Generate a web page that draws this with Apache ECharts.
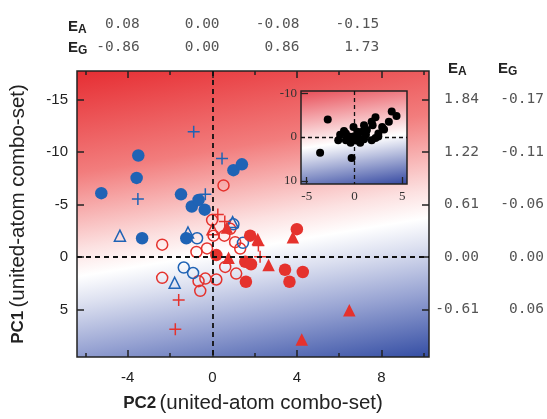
<!DOCTYPE html>
<html>
<head>
<meta charset="utf-8">
<script src="https://cdn.jsdelivr.net/npm/echarts@6/dist/echarts.min.js"></script>
<style>
  html, body { margin: 0; padding: 0; background: #fff; }
  #chart { width: 547px; height: 419px; }
</style>
</head>
<body>
<div id="chart"></div>
<script>
// points are [PC2, PC1]
const blueFilled = [[-3.50,-9.66],[-3.58,-7.53],[-5.25,-6.08],[-1.48,-5.97],[-0.97,-4.81],[-0.65,-5.44],[-0.36,-4.51],[1.00,-8.27],[1.40,-8.82],[-3.32,-1.79],[-1.23,-1.79]];
const blueOpenCircle = [[-0.72,-1.79],[1.00,-3.12],[-1.35,0.99],[-0.91,1.51],[1.45,-1.36]];
const blueOpenTri = [[-4.37,-2.04],[-1.15,-2.34],[0.96,-3.33],[-1.78,2.44]];
const blueCross = [[-0.88,-11.92],[-3.52,-5.53],[-0.33,-5.99],[0.46,-9.38]];
const redOpenCircle = [[0.53,-6.82],[-0.01,-3.52],[0.57,-2.04],[0.85,-2.69],[0.06,-2.04],[-2.37,-1.18],[-0.25,-0.83],[-0.75,-0.49],[1.08,-1.42],[1.32,-0.81],[-2.37,1.97],[-0.65,2.29],[-0.33,2.04],[0.19,2.13],[-0.57,3.21],[0.61,0.93],[1.13,1.57]];
const redFilled = [[4.00,-2.66],[1.79,-2.04],[0.19,-0.19],[1.56,0.44],[1.83,0.68],[1.59,2.34],[3.44,1.20],[3.65,2.34],[4.28,1.42]];
const redFilledTri = [[3.81,-1.88],[0.77,0.06],[2.66,0.74],[6.48,5.06],[4.23,7.84],[0.69,-2.81],[2.15,-1.73]];
const redOpenTri = [[0.01,-2.66]];
const redCross = [[-1.59,4.07],[-1.75,6.85],[2.26,-0.03],[2.18,-1.11],[0.26,-4.05],[0.59,-3.38]];

// inset
const insetPoints = [[-2.8,-4.0],[-3.6,3.6],[-0.3,4.8],[3.9,-5.8],[4.4,-4.8],[3.6,-3.5],[2.2,-4.5],[1.8,-3.5],[1.9,-2.7],[1.0,-2.7],[-0.1,-2.3],[-1.1,-1.4],[-1.5,-0.5],[-1.7,0.7],[-0.9,0.7],[-0.6,-0.1],[-0.4,1.3],[0.3,-1.2],[0.5,0.3],[0.6,1.3],[0.8,-1.2],[1.2,-0.5],[1.3,-1.6],[1.8,0.7],[2.5,-0.8],[3.1,-1.7],[2.9,-2.3],[2.5,-0.1],[-0.1,-0.1],[0.2,0.8],[1.0,0.5],[-0.9,-0.8],[2.2,0.2]];

// axis ticks / secondary labels
const pc2Major = [-4, 0, 4, 8];
const pc2Minor = [-6, -2, 2, 6, 10];
const pc1Ticks = [-15, -10, -5, 0, 5];
const topEA = ['0.08', '0.00', '-0.08', '-0.15'];
const topEG = ['-0.86', '0.00', '0.86', '1.73'];
const rightEA = ['1.84', '1.22', '0.61', '0.00', '-0.61'];
const rightEG = ['-0.17', '-0.11', '-0.06', '0.00', '0.06'];
const insetXTicks = [-5, 0, 5];
const insetYTicks = [-10, 0, 10];

const BLUE = '#1f63b5';
const RED = '#e5322d';
const SANS = '"Liberation Sans", Arial, sans-serif';
const MONO = '"DejaVu Sans Mono", monospace';
const SERIF = '"Liberation Serif", serif';

const chart = echarts.init(document.getElementById('chart'));

const crossPath = 'path://M6,0L6,12M0,6L12,6';
const noLine = { show: false, onZero: false };

function pts(data, symbol, color, open, size, extra) {
  return Object.assign({
    type: 'scatter',
    xAxisIndex: 0,
    yAxisIndex: 0,
    data: data,
    symbol: symbol,
    symbolSize: size,
    silent: true,
    z: 3,
    itemStyle: open
      ? { color: 'rgba(0,0,0,0)', borderColor: color, borderWidth: 1.5, opacity: 1 }
      : { color: color, opacity: 1 }
  }, extra || {});
}

function header(x, y, sub) {
  return [
    { type: 'text', left: x, top: y, style: { text: 'E', font: 'bold 15px ' + SANS, fill: '#222' } },
    { type: 'text', left: x + 10, top: y + 5, style: { text: sub, font: 'bold 12px ' + SANS, fill: '#222' } }
  ];
}

const dashed = { type: [5, 4], color: '#111', width: 1.8 };

chart.setOption({
  animation: false,
  backgroundColor: '#fff',
  grid: [
    {
      left: 77, top: 71, width: 353, height: 294,
      show: true, borderColor: '#222', borderWidth: 1.5,
      backgroundColor: {
        type: 'linear', x: -0.096, y: 0.019, x2: 0.063, y2: 1.185,
        colorStops: [
          { offset: 0, color: 'rgb(230,45,50)' },
          { offset: 0.3, color: 'rgb(242,125,125)' },
          { offset: 0.52, color: 'rgb(252,225,225)' },
          { offset: 0.6, color: 'rgb(255,255,255)' },
          { offset: 0.68, color: 'rgb(220,224,240)' },
          { offset: 0.82, color: 'rgb(150,162,210)' },
          { offset: 1, color: 'rgb(55,80,165)' }
        ]
      }
    },
    {
      left: 301, top: 91, width: 106, height: 93, z: 5,
      show: true, borderColor: '#222', borderWidth: 1.5,
      backgroundColor: {
        type: 'linear', x: 0.425, y: -0.068, x2: 0.565, y2: 1.069,
        colorStops: [
          { offset: 0, color: 'rgb(232,75,85)' },
          { offset: 0.533, color: 'rgb(255,255,255)' },
          { offset: 1, color: 'rgb(50,70,160)' }
        ]
      }
    }
  ],
  xAxis: [
    {
      gridIndex: 0, type: 'value', position: 'bottom', min: -6.4, max: 10.25,
      axisLine: noLine, splitLine: { show: false },
      axisTick: { inside: true, length: 7, customValues: pc2Major, lineStyle: { color: '#222', width: 1.5 } },
      axisLabel: { customValues: pc2Major, margin: 13, fontSize: 15, fontFamily: SANS, color: '#222' },
      name: '{b|PC2} {n|(united-atom combo-set)}', nameLocation: 'middle', nameGap: 36,
      nameTextStyle: { rich: {
        b: { fontWeight: 'bold', fontSize: 17, fontFamily: SANS, color: '#222' },
        n: { fontSize: 20.5, fontFamily: SANS, color: '#222' }
      } }
    },
    {
      gridIndex: 0, type: 'value', position: 'bottom', min: -6.4, max: 10.25,
      axisLine: noLine, splitLine: { show: false }, axisLabel: { show: false },
      axisTick: { inside: true, length: 4, customValues: pc2Minor, lineStyle: { color: '#222', width: 1.5 } }
    },
    {
      gridIndex: 0, type: 'value', position: 'top', min: -6.4, max: 10.25,
      axisLine: noLine, splitLine: { show: false }, axisLabel: { show: false },
      axisTick: { inside: true, length: 7, customValues: pc2Major, lineStyle: { color: '#222', width: 1.5 } }
    },
    {
      gridIndex: 0, type: 'value', position: 'top', min: -6.4, max: 10.25,
      axisLine: noLine, splitLine: { show: false }, axisLabel: { show: false },
      axisTick: { inside: true, length: 4, customValues: pc2Minor, lineStyle: { color: '#222', width: 1.5 } }
    },
    {
      // E_A / E_G labels above the plot (printed slightly offset from the PC2 ticks)
      gridIndex: 0, type: 'value', position: 'top', min: -7.15, max: 10.5,
      axisLine: noLine, splitLine: { show: false }, axisTick: { show: false },
      axisLabel: {
        customValues: pc2Major, margin: 12, align: 'right', lineHeight: 23,
        fontSize: 14.5, fontFamily: MONO, color: '#555',
        formatter: v => { const i = pc2Major.indexOf(v); return topEA[i] + '\n' + topEG[i]; }
      }
    },
    {
      gridIndex: 1, type: 'value', position: 'bottom', min: -5.6, max: 5.5, z: 6,
      axisLine: noLine, splitLine: { show: false },
      axisTick: { inside: true, length: 7, customValues: [-5, 5], lineStyle: { color: '#222', width: 1.3 } },
      axisLabel: { customValues: insetXTicks, margin: 6, fontSize: 13, fontFamily: SERIF, color: '#333' }
    }
  ],
  yAxis: [
    {
      gridIndex: 0, type: 'value', position: 'left', inverse: true, min: -17.7, max: 9.5,
      axisLine: noLine, splitLine: { show: false },
      axisTick: { inside: true, length: 7, customValues: pc1Ticks, lineStyle: { color: '#222', width: 1.5 } },
      axisLabel: { customValues: pc1Ticks, margin: 9, fontSize: 15, fontFamily: SANS, color: '#222' },
      name: '{b|PC1} {n|(united-atom combo-set)}', nameLocation: 'middle', nameGap: 48, nameRotate: 90,
      nameTextStyle: { rich: {
        b: { fontWeight: 'bold', fontSize: 17, fontFamily: SANS, color: '#222' },
        n: { fontSize: 20.5, fontFamily: SANS, color: '#222' }
      } }
    },
    {
      gridIndex: 0, type: 'value', position: 'right', inverse: true, min: -17.7, max: 9.5,
      axisLine: noLine, splitLine: { show: false },
      axisTick: { inside: true, length: 7, customValues: pc1Ticks, lineStyle: { color: '#222', width: 1.5 } },
      axisLabel: {
        customValues: pc1Ticks, margin: 0,
        formatter: v => { const i = pc1Ticks.indexOf(v); return '{a|' + rightEA[i] + '}{b|' + rightEG[i] + '}'; },
        rich: {
          a: { width: 50, align: 'right', fontSize: 14.5, fontFamily: MONO, color: '#555' },
          b: { width: 65, align: 'right', fontSize: 14.5, fontFamily: MONO, color: '#555' }
        }
      }
    },
    {
      gridIndex: 1, type: 'value', position: 'left', inverse: true, min: -10.5, max: 10.7, z: 6,
      axisLine: noLine, splitLine: { show: false },
      axisTick: { inside: true, length: 7, customValues: [-10, 10], lineStyle: { color: '#222', width: 1.3 } },
      axisLabel: { customValues: insetYTicks, margin: 4, fontSize: 13, fontFamily: SERIF, color: '#333' }
    }
  ],
  graphic: [].concat(
    header(68, 19, 'A'),
    header(68, 40, 'G'),
    header(448, 61, 'A'),
    header(498, 61, 'G')
  ),
  series: [
    pts(redOpenCircle, 'circle', RED, true, 11, {
      markLine: {
        silent: true, symbol: 'none', label: { show: false }, lineStyle: dashed,
        data: [{ xAxis: 0 }, { yAxis: 0 }]
      }
    }),
    pts(blueOpenCircle, 'circle', BLUE, true, 11),
    pts(blueOpenTri, 'triangle', BLUE, true, 11),
    pts(redOpenTri, 'triangle', RED, true, 11),
    pts(blueFilled, 'circle', BLUE, false, 12.5),
    pts(redFilled, 'circle', RED, false, 12.5),
    pts(redFilledTri, 'triangle', RED, false, 12.5),
    pts(blueCross, crossPath, BLUE, true, 12),
    pts(redCross, crossPath, RED, true, 12),
    {
      type: 'scatter', xAxisIndex: 5, yAxisIndex: 2, z: 7, silent: true,
      data: insetPoints, symbol: 'circle', symbolSize: 8,
      itemStyle: { color: '#000', opacity: 1 },
      markLine: {
        silent: true, symbol: 'none', label: { show: false },
        lineStyle: { type: [4, 3], color: '#111', width: 1.3 },
        data: [{ xAxis: 0 }, { yAxis: 0 }]
      }
    }
  ]
});
</script>
</body>
</html>
